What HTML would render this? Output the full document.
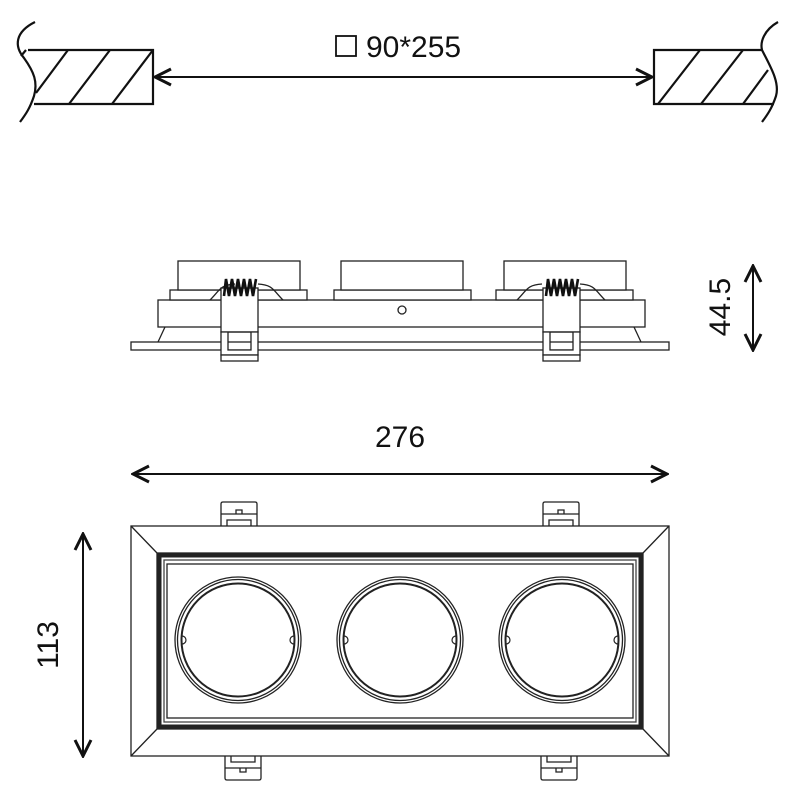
<!DOCTYPE html>
<html><head><meta charset="utf-8"><style>
html,body{margin:0;padding:0;background:#fff;}
svg{display:block}
text{font-family:"Liberation Sans",Arial,sans-serif;fill:#111}
</style></head><body>
<svg width="800" height="800" viewBox="0 0 800 800" xmlns="http://www.w3.org/2000/svg">
<defs>
<marker id="ah" viewBox="0 0 20 20" refX="18" refY="10" markerWidth="20" markerHeight="20" markerUnits="userSpaceOnUse" orient="auto-start-reverse">
<path d="M2,2 L18,10 L2,18" fill="none" stroke="#111" stroke-width="3"/>
</marker>
</defs>
<g fill="none" stroke="#111" stroke-width="2.2">
<path d="M35,22 C15,32 14,46 24,58 C34,72 38,82 34,96 C30,108 26,114 20,122"/>
<path d="M28,50 H153 V104 H34"/>
<path d="M153,50 L112,104 M110,50 L69,104 M68,50 L36,93 M26,50 L21,56"/>
<path d="M778,22 C764,30 760,42 762,50 C770,66 780,82 776,96 C772,108 768,114 762,122"/>
<path d="M763,50 H654 V104 H774"/>
<path d="M700,50 L658,104 M743,50 L701,104 M768,70 L743,104"/>
</g>
<line x1="155" y1="77" x2="652" y2="77" stroke="#111" stroke-width="2" marker-start="url(#ah)" marker-end="url(#ah)"/>
<rect x="336" y="36" width="20" height="20" fill="none" stroke="#111" stroke-width="1.8"/>
<text x="366" y="57" font-size="30">90*255</text>

<g fill="#fff" stroke="#222" stroke-width="1.3">
<rect x="131" y="342" width="538" height="8"/>
<path d="M165,327 L158,342 M634,327 L641,342" fill="none"/>
<rect x="158" y="300" width="487" height="27"/>
<rect x="170" y="290" width="137" height="10"/>
<rect x="334" y="290" width="137" height="10"/>
<rect x="496" y="290" width="137" height="10"/>
<rect x="178" y="261" width="122" height="29"/>
<rect x="341" y="261" width="122" height="29"/>
<rect x="504" y="261" width="122" height="29"/>
<path d="M210,300 C220,290 220,285 235,284 M258,284 C273,285 273,290 283,300 M517,300 C527,290 527,285 542,284 M580,284 C595,285 595,290 605,300" fill="none"/>
<circle cx="242" cy="310" r="4"/><circle cx="402" cy="310" r="4"/><circle cx="561" cy="310" r="4"/>
<rect x="221" y="288" width="37" height="44"/>
<path d="M221,332 H258 V355 H221 Z M228,332 V350 H251 V332" />
<rect x="221" y="355" width="37" height="6"/>
<rect x="543" y="288" width="37" height="44"/>
<path d="M543,332 H580 V355 H543 Z M550,332 V350 H573 V332"/>
<rect x="543" y="355" width="37" height="6"/>
</g>
<g stroke="#111" stroke-width="2.6" fill="none">
<path d="M224,296 L226,279 L229,296 L232,279 L235,296 L238,279 L241,296 L244,279 L247,296 L250,279 L253,296 L256,279"/>
<path d="M546,296 L548,279 L551,296 L554,279 L557,296 L560,279 L563,296 L566,279 L569,296 L572,279 L575,296 L578,279"/>
</g>
<line x1="753" y1="266" x2="753" y2="350" stroke="#111" stroke-width="2" marker-start="url(#ah)" marker-end="url(#ah)"/>
<text transform="translate(730,307) rotate(-90)" font-size="30" text-anchor="middle">44.5</text>

<text x="400" y="447" font-size="30" text-anchor="middle">276</text>
<line x1="133" y1="474" x2="667" y2="474" stroke="#111" stroke-width="2" marker-start="url(#ah)" marker-end="url(#ah)"/>
<line x1="83" y1="534" x2="83" y2="756" stroke="#111" stroke-width="2" marker-start="url(#ah)" marker-end="url(#ah)"/>
<text transform="translate(58,645) rotate(-90)" font-size="30" text-anchor="middle">113</text>

<g fill="#fff" stroke="#222" stroke-width="1.3">
<path d="M221,526 V504 Q221,502 223,502 H255 Q257,502 257,504 V526"/>
<path d="M221,514 H257 M227,526 V520 H251 V526 M236,514 V510 H242 V514"/>
<path d="M543,526 V504 Q543,502 545,502 H577 Q579,502 579,504 V526"/>
<path d="M543,514 H579 M549,526 V520 H573 V526 M558,514 V510 H564 V514"/>
<path d="M225,756 V778 Q225,780 227,780 H259 Q261,780 261,778 V756"/>
<path d="M225,768 H261 M231,756 V762 H255 V756 M240,768 V772 H246 V768"/>
<path d="M541,756 V778 Q541,780 543,780 H575 Q577,780 577,778 V756"/>
<path d="M541,768 H577 M547,756 V762 H571 V756 M556,768 V772 H562 V768"/>
<rect x="131" y="526" width="538" height="230"/>
<path d="M131,526 L157,553 M669,526 L643,553 M131,756 L157,729 M669,756 L643,729" fill="none"/>
</g>
<rect x="159.5" y="555.5" width="481" height="171" fill="none" stroke="#222" stroke-width="4"/>
<rect x="157" y="553" width="486" height="176" fill="none" stroke="#222" stroke-width="1.3"/>
<rect x="164" y="560" width="472" height="162" fill="none" stroke="#444" stroke-width="1.3"/>
<rect x="167" y="564" width="466" height="154" fill="#fff" stroke="#222" stroke-width="1.3"/>
<g fill="none" stroke="#222">
<circle cx="238" cy="640" r="63" stroke-width="1.3"/><circle cx="238" cy="640" r="60.5" stroke-width="1.3"/><circle cx="238" cy="640" r="56.5" stroke-width="2"/>
<circle cx="400" cy="640" r="63" stroke-width="1.3"/><circle cx="400" cy="640" r="60.5" stroke-width="1.3"/><circle cx="400" cy="640" r="56.5" stroke-width="2"/>
<circle cx="562" cy="640" r="63" stroke-width="1.3"/><circle cx="562" cy="640" r="60.5" stroke-width="1.3"/><circle cx="562" cy="640" r="56.5" stroke-width="2"/>
<path d="M182,636 a4,4 0 0 1 0,8 M294,636 a4,4 0 0 0 0,8 M344,636 a4,4 0 0 1 0,8 M456,636 a4,4 0 0 0 0,8 M506,636 a4,4 0 0 1 0,8 M618,636 a4,4 0 0 0 0,8" stroke-width="1.2"/>
</g>
</svg>
</body></html>
